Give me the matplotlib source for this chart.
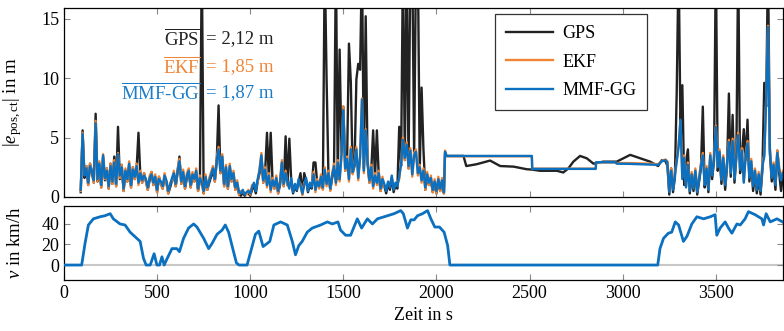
import matplotlib
matplotlib.use("Agg")
import matplotlib.pyplot as plt

plt.rcParams['font.family'] = ['Liberation Serif', 'DejaVu Serif']
plt.rcParams['mathtext.fontset'] = 'custom'
plt.rcParams['mathtext.rm'] = 'Liberation Serif'
plt.rcParams['mathtext.it'] = 'Liberation Serif:italic'
plt.rcParams['font.size'] = 12

# position error, driving part 1 (sampled every 10 s)
t_drive1 = [
    90, 100, 110, 120, 130, 140, 150, 160, 170, 180,
    190, 200, 210, 220, 230, 240, 250, 260, 270, 280,
    290, 300, 310, 320, 330, 340, 350, 360, 370, 380,
    390, 400, 410, 420, 430, 440, 450, 460, 470, 480,
    490, 500, 510, 520, 530, 540, 550, 560, 570, 580,
    590, 600, 610, 620, 630, 640, 650, 660, 670, 680,
    690, 700, 710, 720, 730, 740, 750, 760, 770, 780,
    790, 800, 810, 820, 830, 840, 850, 860, 870, 880,
    890, 900, 910, 920, 930, 940, 950, 960, 970, 980,
    990, 1000, 1010, 1020, 1030, 1040, 1050, 1060, 1070, 1080,
    1090, 1100, 1110, 1120, 1130, 1140, 1150, 1160, 1170, 1180,
    1190, 1200, 1210, 1220, 1230, 1240, 1250, 1260, 1270, 1280,
    1290, 1300, 1310, 1320, 1330, 1340, 1350, 1360, 1370, 1380,
    1390, 1400, 1410, 1420, 1430, 1440, 1450, 1460, 1470, 1480,
    1490, 1500, 1510, 1520, 1530, 1540, 1550, 1560, 1570, 1580,
    1590, 1600, 1610, 1620, 1630, 1640, 1650, 1660, 1670, 1680,
    1690, 1700, 1710, 1720, 1730, 1740, 1750, 1760, 1770, 1780,
    1790, 1800, 1810, 1820, 1830, 1840, 1850, 1860, 1870, 1880,
    1890, 1900, 1910, 1920, 1930, 1940, 1950, 1960, 1970, 1980,
    1990, 2000, 2010, 2020, 2030, 2040]
gps_drive1 = [
    0.4, 5.6, 1.6, 2.6, 1.0, 2.8, 2.0, 1.2, 7.0, 1.3,
    2.6, 0.8, 3.3, 1.4, 2.4, 0.7, 2.8, 1.1, 3.4, 0.9,
    5.9, 1.5, 2.7, 0.5, 2.0, 1.3, 2.6, 0.8, 2.5, 1.5,
    2.4, 5.4, 1.8, 1.2, 2.0, 1.3, 0.6, 1.4, 2.1, 1.0,
    1.5, 0.4, 1.7, 1.1, 0.7, 1.6, 1.2, 0.3, 0.8, 1.4,
    1.8, 0.9, 2.0, 3.4, 1.1, 1.9, 0.7, 1.6, 2.0, 0.8,
    1.7, 1.3, 2.0, 0.5, 1.4, 20.0, 0.3, 1.5, 0.6, 1.2,
    1.7, 2.2, 1.3, 2.9, 7.7, 2.0, 3.2, 0.9, 2.3, 0.7,
    2.4, 1.3, 1.8, 0.6, 1.0, 0.2, 0.1, 0.4, 0.1, 0.3,
    0.3, 0.1, 0.6, 1.0, 0.3, 1.3, 2.0, 3.3, 1.2, 2.1,
    5.4, 1.6, 5.4, 1.2, 0.7, 1.4, 0.3, 1.0, 2.7, 0.9,
    5.1, 1.0, 4.9, 1.4, 0.3, 0.9, 0.5, 1.3, 2.0, 0.2,
    2.0, 1.4, 0.4, 1.0, 0.7, 2.9, 2.9, 1.1, 0.8, 1.5,
    0.7, 20.0, 9.9, 1.8, 0.6, 1.6, 2.4, 20.0, 1.5, 12.4,
    3.8, 7.6, 2.2, 3.0, 12.9, 9.7, 2.0, 2.6, 9.9, 11.2,
    10.7, 20.0, 2.4, 15.2, 2.8, 1.2, 2.3, 5.6, 1.6, 5.6,
    1.8, 0.5, 1.3, 0.9, 0.3, 1.1, 0.6, 1.6, 0.4, 1.0,
    0.7, 5.9, 2.6, 20.0, 3.1, 20.0, 2.4, 20.0, 20.0, 3.3,
    20.0, 20.0, 2.3, 9.2, 4.0, 0.6, 1.7, 1.0, 1.4, 0.4,
    1.1, 0.3, 1.3, 0.5, 1.2, 0.3]
ekf_drive1 = [
    0.5, 5.4, 1.9, 2.6, 1.0, 2.8, 2.3, 1.2, 6.4, 1.3,
    3.0, 0.8, 3.6, 1.5, 2.4, 0.7, 2.8, 1.1, 3.1, 0.9,
    3.7, 1.6, 2.7, 0.5, 2.4, 1.3, 3.0, 0.8, 2.5, 1.5,
    2.8, 1.0, 2.2, 1.2, 2.0, 1.3, 0.6, 1.8, 2.1, 1.0,
    1.9, 0.4, 1.7, 1.1, 0.7, 2.0, 1.2, 0.3, 1.2, 1.4,
    2.2, 0.9, 2.4, 3.2, 1.1, 2.3, 0.7, 2.0, 2.4, 0.8,
    2.1, 1.3, 2.4, 0.5, 1.8, 1.0, 0.3, 1.9, 0.6, 1.6,
    2.1, 2.6, 1.3, 3.3, 4.2, 2.0, 3.6, 0.9, 2.7, 0.7,
    2.8, 1.3, 2.2, 0.6, 1.4, 0.2, 0.5, 0.4, 0.3, 0.2,
    0.6, 0.2, 1.0, 1.0, 0.7, 1.3, 2.4, 3.7, 1.2, 2.5,
    0.8, 2.0, 0.4, 1.6, 0.7, 1.8, 0.3, 1.4, 3.1, 0.9,
    2.2, 1.0, 0.9, 1.4, 0.6, 0.9, 0.8, 1.3, 1.1, 0.2,
    1.2, 1.4, 0.7, 1.0, 1.0, 2.1, 0.4, 1.5, 0.7, 1.9,
    0.6, 2.5, 0.9, 2.2, 0.5, 2.0, 2.8, 1.0, 3.1, 1.3,
    3.7, 7.6, 2.2, 3.4, 1.3, 4.2, 1.9, 3.0, 4.2, 1.4,
    3.5, 8.3, 2.0, 5.7, 3.2, 1.2, 2.7, 0.7, 2.0, 1.0,
    2.2, 0.5, 1.7, 0.9, 0.7, 1.1, 1.0, 1.6, 0.8, 1.0,
    1.1, 1.5, 3.0, 5.0, 3.1, 4.6, 2.4, 4.1, 1.7, 3.7,
    4.0, 1.8, 2.7, 1.2, 2.4, 0.6, 2.1, 1.0, 1.8, 0.4,
    1.5, 0.3, 1.7, 0.5, 1.6, 0.3]
mmf_drive1 = [
    0.6, 5.3, 1.8, 2.4, 1.2, 2.6, 2.2, 1.4, 6.2, 1.5,
    2.8, 1.0, 3.5, 1.6, 2.2, 0.9, 2.6, 1.3, 2.9, 1.1,
    3.6, 1.8, 2.5, 0.7, 2.2, 1.5, 2.8, 1.0, 2.3, 1.7,
    2.6, 1.2, 2.0, 1.4, 1.8, 1.5, 0.8, 1.6, 1.9, 1.2,
    1.7, 0.6, 1.5, 1.3, 0.9, 1.8, 1.4, 0.5, 1.0, 1.6,
    2.0, 1.1, 2.2, 3.0, 1.3, 2.1, 0.9, 1.8, 2.2, 1.0,
    1.9, 1.5, 2.2, 0.7, 1.6, 1.2, 0.5, 1.7, 0.8, 1.4,
    1.9, 2.4, 1.5, 3.1, 4.0, 2.2, 3.4, 1.1, 2.5, 0.9,
    2.6, 1.5, 2.0, 0.8, 1.2, 0.4, 0.3, 0.6, 0.2, 0.4,
    0.5, 0.3, 0.8, 1.2, 0.5, 1.5, 2.2, 3.5, 1.4, 2.3,
    1.0, 1.8, 0.6, 1.4, 0.9, 1.6, 0.5, 1.2, 2.9, 1.1,
    2.0, 1.2, 0.7, 1.6, 0.4, 1.1, 0.6, 1.5, 0.9, 0.3,
    1.0, 1.6, 0.5, 1.2, 0.8, 1.9, 0.6, 1.3, 0.9, 1.7,
    0.8, 2.3, 1.1, 2.0, 0.7, 1.8, 2.6, 1.2, 2.9, 1.5,
    3.5, 7.3, 2.4, 3.2, 1.5, 4.0, 2.1, 2.8, 4.0, 1.6,
    3.3, 8.2, 2.2, 5.6, 3.0, 1.4, 2.5, 0.9, 1.8, 1.2,
    2.0, 0.7, 1.5, 1.1, 0.5, 1.3, 0.8, 1.8, 0.6, 1.2,
    0.9, 1.7, 2.8, 4.8, 3.3, 4.4, 2.6, 3.9, 1.9, 3.5,
    3.8, 2.0, 2.5, 1.4, 2.2, 0.8, 1.9, 1.2, 1.6, 0.6,
    1.3, 0.5, 1.5, 0.7, 1.4, 0.4]

# position error while standing still
t_stand = [2046, 2050, 2056, 2145, 2160, 2215, 2288, 2342, 2414, 2485,
           2512, 2514, 2556, 2646, 2681, 2708, 2735, 2771, 2807, 2843,
           2855, 2857, 2896, 2959, 2968, 3040, 3147, 3190, 3210, 3230]
gps_stand = [3.7, 3.5, 3.45, 3.45, 2.6, 2.75, 3.06, 2.6, 2.55, 2.33,
             2.3, 2.3, 2.2, 2.2, 2.06, 2.4, 2.97, 3.45, 3.25, 2.8,
             2.85, 2.85, 2.97, 2.97, 2.97, 3.54, 2.97, 2.6, 3.1, 3.0]
ekf_stand = [3.9, 3.6, 3.42, 3.42, 3.42, 3.42, 3.42, 3.42, 3.42, 3.42,
             3.42, 2.38, 2.38, 2.38, 2.38, 2.38, 2.38, 2.38, 2.38, 2.38,
             2.38, 2.9, 2.9, 2.9, 2.85, 2.85, 2.8, 2.75, 3.05, 3.15]
mmf_stand = [3.8, 3.6, 3.45, 3.45, 3.45, 3.45, 3.45, 3.45, 3.45, 3.45,
             3.45, 2.36, 2.36, 2.36, 2.36, 2.36, 2.36, 2.36, 2.36, 2.36,
             2.36, 2.92, 2.92, 2.92, 2.8, 2.78, 2.72, 2.7, 3.0, 3.1]

# position error, driving part 2
t_drive2 = [
    3240, 3250, 3260, 3270, 3280, 3290, 3300, 3310, 3320, 3330,
    3340, 3350, 3360, 3370, 3380, 3390, 3400, 3410, 3420, 3430,
    3440, 3450, 3460, 3470, 3480, 3490, 3500, 3510, 3520, 3530,
    3540, 3550, 3560, 3570, 3580, 3590, 3600, 3610, 3620, 3630,
    3640, 3650, 3660, 3670, 3680, 3690, 3700, 3710, 3720, 3730,
    3740, 3750, 3760, 3770, 3780, 3790, 3800, 3810, 3820, 3830,
    3840, 3850, 3860]
gps_drive2 = [
    2.6, 0.2, 2.4, 0.4, 1.6, 8.9, 20.0, 5.8, 9.4, 1.0,
    3.0, 4.0, 0.3, 1.7, 0.5, 2.0, 0.2, 1.3, 2.4, 7.6,
    0.8, 2.2, 0.4, 3.3, 1.5, 3.0, 20.0, 2.2, 3.5, 1.1,
    3.0, 0.6, 2.5, 8.7, 1.7, 6.9, 1.2, 3.3, 20.0, 2.0,
    3.6, 5.7, 3.1, 6.5, 1.3, 2.7, 0.5, 1.9, 0.3, 1.6,
    0.2, 2.3, 9.6, 7.6, 20.0, 3.7, 1.3, 2.4, 0.6, 3.9,
    2.0, 0.5, 1.8]
ekf_drive2 = [
    3.0, 0.5, 2.4, 0.7, 2.0, 3.1, 4.4, 6.4, 1.7, 3.5,
    0.9, 2.9, 0.6, 2.1, 0.8, 2.4, 0.5, 1.7, 2.8, 3.7,
    1.1, 2.6, 0.7, 3.7, 2.0, 3.4, 6.0, 2.7, 4.0, 1.5,
    3.5, 1.1, 3.0, 4.8, 2.2, 4.9, 1.6, 3.8, 5.4, 2.5,
    4.1, 1.3, 3.6, 4.7, 1.8, 3.2, 1.0, 2.4, 0.7, 2.1,
    0.6, 2.8, 3.6, 8.2, 14.4, 4.2, 1.8, 2.9, 1.1, 3.9,
    2.5, 1.5, 2.2]
mmf_drive2 = [
    2.9, 0.4, 2.2, 0.6, 1.8, 3.0, 4.2, 6.5, 1.5, 3.3,
    0.8, 2.7, 0.5, 1.9, 0.7, 2.2, 0.4, 1.5, 2.6, 3.5,
    1.0, 2.4, 0.6, 3.5, 1.8, 3.2, 5.9, 2.5, 3.8, 1.4,
    3.3, 1.0, 2.8, 4.6, 2.0, 4.7, 1.5, 3.6, 5.2, 2.3,
    3.9, 1.2, 3.4, 4.5, 1.6, 3.0, 0.9, 2.2, 0.6, 1.9,
    0.5, 2.6, 3.4, 8.0, 14.3, 4.0, 1.6, 2.7, 1.0, 3.7,
    2.3, 1.4, 2.0]

# vehicle speed in km/h
t_speed = [0, 95, 113, 131, 158, 194, 220, 248, 265, 301, 328, 355, 391, 409,
           427, 441, 463, 484, 499, 513, 526, 538, 553, 580, 606, 620, 642,
           669, 696, 714, 750, 777, 795, 822, 849, 866, 884, 902, 926, 940,
           983, 1001, 1028, 1046, 1069, 1091, 1105, 1127, 1163, 1199, 1226,
           1243, 1261, 1279, 1306, 1333, 1378, 1414, 1441, 1471, 1485, 1512,
           1539, 1575, 1598, 1629, 1656, 1683, 1719, 1772, 1808, 1822, 1844,
           1862, 1880, 1898, 1925, 1952, 1970, 1991, 2016, 2041, 2060, 2072,
           3188, 3200, 3219, 3245, 3263, 3282, 3300, 3326, 3345, 3371, 3398,
           3434, 3470, 3496, 3505, 3523, 3550, 3568, 3586, 3613, 3631, 3657,
           3675, 3711, 3747, 3756, 3770, 3792, 3828, 3858]
v_speed = [0, 0, 21, 39, 45, 47, 48, 50, 45, 40, 39, 32, 26, 23,
           6.5, 0, 0, 11, 0, 0, 8, 0, 6, 16, 16, 13, 26,
           36, 40, 37, 26, 16, 21, 30, 34, 39, 32, 19, 2, 0,
           0, 12, 30, 33, 18, 21, 23, 39, 42, 39, 23,
           10, 19, 23, 32, 36, 39, 42, 40, 42, 34, 29,
           29, 45, 36, 45, 40, 45, 47, 50, 53, 50, 36,
           44, 44, 48, 50, 53, 45, 37, 37, 32, 19, 0,
           0, 16, 26, 31, 32, 42, 39, 23, 28, 40, 47,
           45, 47, 49, 29, 36, 42, 36, 31, 40, 39, 45,
           52, 49, 45, 39, 50, 42, 45, 42]

mean_labels = [r'$\overline{\mathrm{GPS}}$', r'$\overline{\mathrm{EKF}}$', r'$\overline{\mathrm{MMF\text{-}GG}}$']
mean_values = ['= 2,12 m', '= 1,85 m', '= 1,87 m']

c_gps = '#222222'
c_ekf = '#f08536'
c_mmf = '#0a70bf'

t_err = t_drive1 + t_stand + t_drive2
gps = gps_drive1 + gps_stand + gps_drive2
ekf = ekf_drive1 + ekf_stand + ekf_drive2
mmf = mmf_drive1 + mmf_stand + mmf_drive2

fig = plt.figure(figsize=(7.84, 3.31), dpi=100)
ax1 = fig.add_axes([0.0816, 0.405, 0.917, 0.571])
ax2 = fig.add_axes([0.0816, 0.154, 0.917, 0.224])

ax1.plot(t_err, gps, color=c_gps, lw=1.7, label='GPS')
ax1.plot(t_err, ekf, color=c_ekf, lw=1.7, label='EKF')
ax1.plot(t_err, mmf, color=c_mmf, lw=1.7, label='MMF-GG')
ax1.set_xlim(0, 3860)
ax1.set_ylim(0, 15.9)
ax1.set_yticks([0, 5, 10, 15])
ax1.set_xticks(range(0, 4000, 500))
ax1.tick_params(labelbottom=False)
ax1.set_ylabel(r'$|e_{\mathrm{pos,ct}}|$ in m', fontsize=13.5)

leg = ax1.legend(loc='upper left', bbox_to_anchor=(0.600, 0.968), borderaxespad=0,
                 handlelength=2.6, handletextpad=0.5, labelspacing=0.65,
                 borderpad=0.6, fancybox=False, framealpha=1, fontsize=13)
leg.get_frame().set_edgecolor('#333333')
leg.get_frame().set_linewidth(0.9)

text_colors = [c_gps, c_ekf, '#1a7cc8']
text_y = [13.3, 10.95, 8.75]
for lab, val, col, yy in zip(mean_labels, mean_values, text_colors, text_y):
    ax1.text(730, yy, lab, color=col, ha='right', va='center', fontsize=13.5)
    ax1.text(760, yy, val, color=col, ha='left', va='center', fontsize=13.5)

ax2.axhline(0, color='#c8c8c8', lw=1.5, zorder=1)
ax2.plot(t_speed, v_speed, color=c_mmf, lw=2.0, zorder=3)
ax2.set_xlim(0, 3860)
ax2.set_ylim(-14.6, 57.6)
ax2.set_yticks([0, 20, 40])
ax2.set_xticks(range(0, 4000, 500))
ax2.set_xlabel('Zeit in s', fontsize=13)
ax2.set_ylabel(r'$v$ in km/h', fontsize=13.5)

for ax in (ax1, ax2):
    ax.tick_params(direction='in', length=4, color='#888888', top=True, right=True,
                   labelsize=13)
    for s in ax.spines.values():
        s.set_linewidth(0.9)
    ax.yaxis.set_label_coords(-0.056, 0.5)

fig.savefig('out.png', dpi=100)
